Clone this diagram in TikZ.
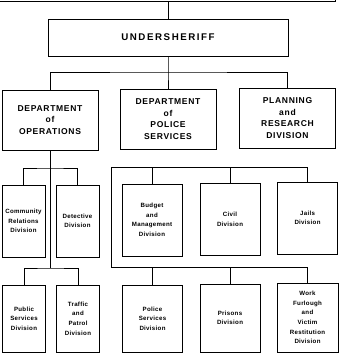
\documentclass[tikz,border=0pt]{standalone}
\usepackage{fontspec}
\setmainfont{Liberation Sans}
\begin{document}
\begin{tikzpicture}[x=0.75pt,y=-0.75pt,
    box/.style={draw,line width=0.6pt,inner sep=0pt,align=center},
    headbox/.style={box,minimum width=180pt,minimum height=27.75pt,
        font=\fontsize{7.3}{9}\selectfont\bfseries\addfontfeatures{LetterSpace=16}},
    deptbox/.style={box,minimum width=72pt,minimum height=45pt,
        font=\fontsize{6.4}{8.6}\selectfont\bfseries\addfontfeatures{LetterSpace=8}},
    divbox/.style={box,minimum width=32.25pt,minimum height=54pt,
        font=\fontsize{4.6}{7.2}\selectfont\bfseries\addfontfeatures{LetterSpace=5}},
    link/.style={line width=0.6pt}]
    \useasboundingbox (0,0) rectangle (344,353);
    \clip (0,0) rectangle (344,353);

    % top levels
    \node[box,minimum width=252.75pt,minimum height=30pt] (sheriff) at (166.5,-19) {};
    \node[headbox] (under) at (168,37.5) {UNDERSHERIFF};
    \draw[link] (sheriff.south -| under.north) -- (under.north);

    \node[deptbox] (ops) at (50,120) {DEPARTMENT\\of\\OPERATIONS};
    \node[deptbox] (police) at (168,119) {DEPARTMENT\\of\\POLICE\\SERVICES};
    \node[deptbox] (plan) at (287.5,118) {PLANNING\\and\\RESEARCH\\DIVISION};

    \coordinate (bus) at (168,72);
    \draw[link] (under.south) -- (bus) -- (police.north);
    \draw[link] (ops.north) |- (bus) -| (plan.north);

    % operations
    \node[divbox] (comm) at (23.5,221) {Community\\Relations\\Division};
    \node[divbox] (det) at (77.5,221) {Detective\\Division};
    \node[divbox,minimum height=50.25pt] (pub) at (24,318.5) {Public\\Services\\Division};
    \node[divbox,minimum height=50.25pt] (traf) at (78,318.5) {Traffic\\and\\Patrol\\Division};

    \coordinate (obus1) at (50,168);
    \coordinate (obus2) at (50,268);
    \draw[link] (ops.south) -- (obus2);
    \draw[link] (comm.north) |- (obus1) -| (det.north);
    \draw[link] (pub.north) |- (obus2) -| (traf.north);

    % police services
    \node[divbox,minimum width=45pt] (budget) at (152,220) {Budget\\and\\Management\\Division};
    \node[divbox,minimum width=45pt] (civil) at (230,219.5) {Civil\\Division};
    \node[divbox,minimum width=45pt] (jails) at (307.5,218) {Jails\\Division};
    \node[divbox,minimum width=45pt,minimum height=50.25pt] (polserv) at (152.5,318.5) {Police\\Services\\Division};
    \node[divbox,minimum width=45pt,minimum height=51pt] (prisons) at (230,318) {Prisons\\Division};
    \node[divbox,minimum width=45.75pt,minimum height=51.75pt] (work) at (307.5,317.5) {Work\\Furlough\\and\\Victim\\Restitution\\Division};

    \coordinate (pbus1) at (111,167);
    \coordinate (pbus2) at (111,267);
    \draw[link] (jails.north) |- (pbus1) -- (pbus2) -| (work.north);
    \draw[link] (budget.north) -- (budget.north |- pbus1);
    \draw[link] (civil.north) -- (civil.north |- pbus1);
    \draw[link] (polserv.north) -- (polserv.north |- pbus2);
    \draw[link] (prisons.north) -- (prisons.north |- pbus2);
\end{tikzpicture}
\end{document}
